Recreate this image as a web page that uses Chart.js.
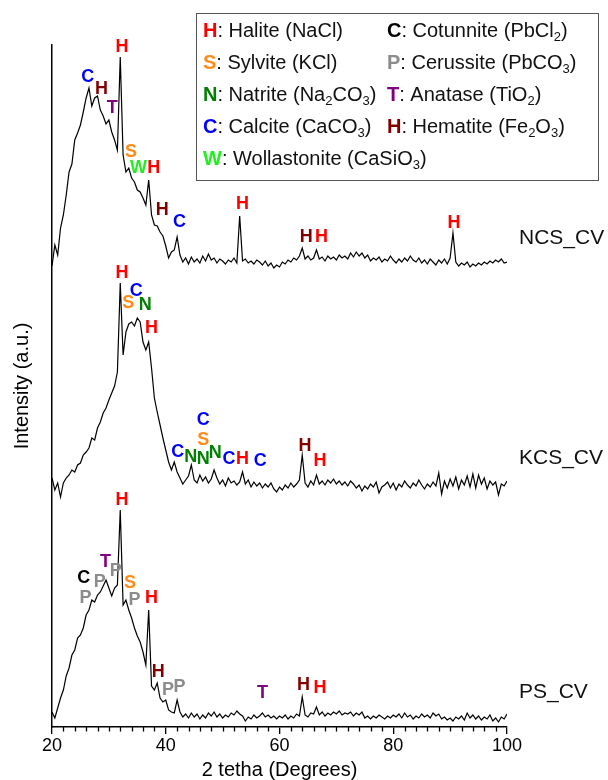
<!DOCTYPE html>
<html>
<head>
<meta charset="utf-8">
<script src="https://cdn.jsdelivr.net/npm/chart.js@4.4.1/dist/chart.umd.min.js"></script>
<style>
  body { margin: 0; background: #fff; }
  canvas { display: block; }
</style>
</head>
<body>
<canvas id="xrd" width="608" height="780"></canvas>
<script>
// 2-theta sampling grid (degrees)
const angles = [];
for (let a = 20; a <= 100.001; a += 0.5) angles.push(Math.round(a * 10) / 10);

// intensities (a.u.) above each pattern's own baseline, one row = 5 degrees
const ncsValues = [
  2, 23, 13, 40, 53, 73, 96, 104, 128, 135,
  143, 156, 170, 180, 162, 170, 172, 158, 152, 144,
  148, 136, 128, 118, 211, 113, 96, 100, 90, 86,
  78, 76, 70, 63, 88, 53, 43, 42, 36, 32,
  22, 10, 16, 18, 31, 13, 6, 10, 4, 11,
  6, 9, 5, 12, 7, 14, 8, 10, 5, 9,
  7, 4, 8, 6, 10, 5, 52, 7, 9, 5,
  7, 4, 8, 6, 3, 7, 2, 5, 0, 3,
  1, 6, 4, 8, 6, 10, 8, 12, 20, 9,
  12, 8, 10, 18, 9, 11, 7, 12, 9, 11,
  8, 13, 10, 12, 9, 15, 11, 16, 12, 15,
  10, 13, 7, 10, 8, 11, 6, 9, 7, 12,
  8, 5, 9, 6, 10, 7, 12, 8, 6, 10,
  5, 8, 4, 9, 6, 3, 8, 5, 9, 4,
  10, 35, 6, 2, 5, 3, 6, 1, 4, 2,
  5, 3, 6, 4, 7, 5, 8, 6, 9, 5,
  6
];
const kcsValues = [
  19, 7, 14, 0, 14, 19, 22, 27, 25, 32,
  34, 42, 45, 49, 59, 57, 69, 75, 84, 89,
  97, 104, 111, 125, 214, 142, 165, 173, 175, 171,
  179, 175, 155, 147, 155, 129, 99, 85, 72, 59,
  47, 35, 27, 35, 25, 19, 13, 17, 21, 32,
  17, 14, 22, 16, 20, 14, 18, 27, 19, 13,
  17, 11, 19, 14, 16, 12, 15, 25, 13, 17,
  10, 15, 11, 14, 9, 13, 10, 14, 8, 5,
  10, 7, 12, 9, 14, 10, 13, 17, 42, 14,
  10, 16, 12, 22, 13, 16, 12, 17, 14, 18,
  13, 16, 12, 15, 11, 16, 13, 9, 12, 6,
  11, 8, 13, 10, 15, 4, 10, 12, 15, 9,
  14, 7, 13, 10, 16, 12, 9, 14, 11, 17,
  12, 8, 13, 10, 15, 11, 24, 3, 16, 9,
  18, 11, 20, 8, 17, 12, 21, 10, 23, 9,
  22, 13, 19, 8, 16, 12, 15, 2, 13, 11,
  16
];
const psValues = [
  10, 4, 14, 24, 32, 46, 54, 67, 72, 84,
  87, 94, 107, 112, 122, 120, 127, 130, 136, 142,
  134, 126, 134, 137, 212, 117, 122, 112, 104, 94,
  86, 80, 70, 57, 112, 36, 32, 39, 24, 20,
  22, 12, 10, 9, 22, 10, 5, 8, 4, 9,
  5, 8, 3, 7, 4, 9, 6, 10, 5, 8,
  4, 7, 5, 9, 7, 11, 8, 6, 1, 5,
  3, 7, 4, 6, 9, 5, 7, 4, 6, 3,
  6, 4, 7, 3, 6, 4, 8, 6, 25, 7,
  5, 9, 8, 15, 7, 10, 6, 9, 7, 10,
  8, 11, 7, 9, 8, 10, 6, 9, 7, 10,
  4, 6, 3, 6, 4, 7, 5, 3, 6, 4,
  7, 5, 8, 4, 9, 5, 7, 3, 6, 4,
  8, 5, 7, 4, 9, 6, 8, 3, 5, 2,
  4, 1, 5, 3, 6, 2, 9, 4, 7, 3,
  6, 2, 5, 3, 7, 1, 4, 0, 5, 3,
  8
];

const sampleNames = ['NCS_CV', 'KCS_CV', 'PS_CV'];
const xTicks = [20, 40, 60, 80, 100];

// phase marks: [phase, 2theta, height above the pattern baseline]
const ncsMarks = [
  ['calcite', 26.3, 191], ['hematite', 28.7, 179], ['anatase', 30.6, 160],
  ['halite', 32.3, 221], ['sylvite', 33.9, 116], ['wollastonite', 35.2, 100],
  ['halite', 37.9, 100], ['hematite', 39.4, 58], ['calcite', 42.4, 46],
  ['halite', 53.5, 64], ['hematite', 64.7, 31], ['halite', 67.4, 31],
  ['halite', 90.7, 45]
];
const kcsMarks = [
  ['halite', 32.3, 224], ['sylvite', 33.4, 194], ['calcite', 34.8, 206],
  ['natrite', 36.4, 192], ['halite', 37.5, 169], ['calcite', 42.1, 45],
  ['natrite', 44.4, 40], ['natrite', 46.6, 38], ['natrite', 48.7, 44],
  ['calcite', 46.6, 77], ['sylvite', 46.6, 57], ['calcite', 51.1, 38],
  ['halite', 53.5, 38], ['calcite', 56.6, 36], ['hematite', 64.5, 51],
  ['halite', 67.1, 36]
];
const psMarks = [
  ['halite', 32.3, 222], ['anatase', 29.4, 160], ['cotunnite', 25.6, 144],
  ['cerussite', 28.4, 140], ['cerussite', 31.2, 151], ['sylvite', 33.7, 139],
  ['cerussite', 25.9, 124], ['cerussite', 34.5, 122], ['halite', 37.5, 124],
  ['hematite', 38.7, 50], ['cerussite', 40.4, 32], ['cerussite', 42.4, 35],
  ['anatase', 57.0, 29], ['hematite', 64.2, 37], ['halite', 67.1, 34]
];

const FONT = '"Liberation Sans", Arial, sans-serif';

const phases = {
  halite:       { letter: 'H', color: '#ff0000', text: [': Halite (NaCl)'] },
  sylvite:      { letter: 'S', color: '#ff8c1a', text: [': Sylvite (KCl)'] },
  natrite:      { letter: 'N', color: '#008000', text: [': Natrite (Na', '_2', 'CO', '_3', ')'] },
  calcite:      { letter: 'C', color: '#0000ff', text: [': Calcite (CaCO', '_3', ')'] },
  wollastonite: { letter: 'W', color: '#22ee22', text: [': Wollastonite (CaSiO', '_3', ')'] },
  cotunnite:    { letter: 'C', color: '#000000', text: [': Cotunnite (PbCl', '_2', ')'] },
  cerussite:    { letter: 'P', color: '#8c8c8c', text: [': Cerussite (PbCO', '_3', ')'] },
  anatase:      { letter: 'T', color: '#800080', text: [': Anatase (TiO', '_2', ')'] },
  hematite:     { letter: 'H', color: '#800000', text: [': Hematite (Fe', '_2', 'O', '_3', ')'] }
};

const patterns = [
  { name: sampleNames[0], values: ncsValues, marks: ncsMarks, offset: 459, labelAt: 30 },
  { name: sampleNames[1], values: kcsValues, marks: kcsMarks, offset: 230, labelAt: 39 },
  { name: sampleNames[2], values: psValues, marks: psMarks, offset: 5, labelAt: 30 }
];

const legendCols = [
  ['halite', 'sylvite', 'natrite', 'calcite', 'wollastonite'],
  ['cotunnite', 'cerussite', 'anatase', 'hematite']
];

const decor = {
  id: 'decor',
  afterDraw(chart) {
    const { ctx, scales: { x, y } } = chart;
    ctx.save();

    // minor ticks every 2 degrees
    ctx.strokeStyle = '#000';
    ctx.lineWidth = 1.3;
    ctx.beginPath();
    for (let a = 22; a < 100; a += 2) {
      if (a % 20 === 0) continue;
      const px = Math.round(x.getPixelForValue(a)) + 0.5;
      ctx.moveTo(px, y.bottom);
      ctx.lineTo(px, y.bottom + 4.5);
    }
    ctx.stroke();

    // phase letters
    ctx.textAlign = 'center';
    ctx.textBaseline = 'middle';
    ctx.font = 'bold 18px ' + FONT;
    patterns.forEach(p => {
      p.marks.forEach(m => {
        const ph = phases[m[0]];
        ctx.fillStyle = ph.color;
        ctx.fillText(ph.letter, x.getPixelForValue(m[1]), y.getPixelForValue(p.offset + m[2]));
      });
    });

    // sample names on the right
    ctx.textAlign = 'left';
    ctx.fillStyle = '#111';
    ctx.font = '21px ' + FONT;
    patterns.forEach(p => {
      ctx.fillText(p.name, x.right + 12, y.getPixelForValue(p.offset + p.labelAt));
    });

    // legend box
    ctx.fillStyle = '#fff';
    ctx.fillRect(196, 13, 402, 167);
    ctx.strokeStyle = '#555';
    ctx.lineWidth = 1;
    ctx.strokeRect(196.5, 13.5, 402, 167);
    const colX = [203, 387];
    const rowY = [31, 63, 95, 127, 159];
    ctx.textBaseline = 'middle';
    legendCols.forEach((col, ci) => {
      col.forEach((key, ri) => {
        const ph = phases[key];
        let cx = colX[ci];
        const cy = rowY[ri];
        ctx.font = 'bold 20px ' + FONT;
        ctx.fillStyle = ph.color;
        ctx.fillText(ph.letter, cx, cy);
        cx += ctx.measureText(ph.letter).width;
        ctx.fillStyle = '#111';
        ph.text.forEach(seg => {
          if (seg.startsWith('_')) {
            ctx.font = '13px ' + FONT;
            ctx.fillText(seg.slice(1), cx, cy + 6);
            cx += ctx.measureText(seg.slice(1)).width;
          } else {
            ctx.font = '20px ' + FONT;
            ctx.fillText(seg, cx, cy);
            cx += ctx.measureText(seg).width;
          }
        });
      });
    });
    ctx.restore();
  }
};

new Chart(document.getElementById('xrd'), {
  type: 'line',
  data: {
    datasets: patterns.map(p => ({
      label: p.name,
      data: angles.map((a, i) => ({ x: a, y: p.values[i] + p.offset })),
      borderColor: '#000',
      borderWidth: 1.2,
      pointRadius: 0,
      tension: 0,
      fill: false
    }))
  },
  options: {
    responsive: false,
    animation: false,
    layout: { padding: { top: 45, right: 101, left: 0, bottom: 0 } },
    plugins: { legend: { display: false }, tooltip: { enabled: false } },
    scales: {
      x: {
        type: 'linear',
        min: 20,
        max: 100,
        afterBuildTicks: s => { s.ticks = xTicks.map(v => ({ value: v })); },
        ticks: { color: '#000', font: { size: 18, family: FONT }, padding: 1, maxRotation: 0 },
        grid: { drawOnChartArea: false, drawTicks: true, tickLength: 7, color: '#000', lineWidth: 1.3 },
        border: { color: '#000', width: 1.5 },
        title: {
          display: true, text: '2 tetha (Degrees)', color: '#000',
          font: { size: 20, family: FONT, lineHeight: 1 }, padding: { top: 0, bottom: 0 }
        },
        afterFit: s => { s.height = 53; }
      },
      y: {
        min: 0,
        max: 682,
        ticks: { display: false },
        grid: { display: false },
        border: { color: '#000', width: 1.5 },
        title: {
          display: true, text: 'Intensity (a.u.)', color: '#000',
          font: { size: 20, family: FONT }, padding: { top: 10, bottom: 0 }
        },
        afterFit: s => { s.width = 52; }
      }
    }
  },
  plugins: [decor]
});
</script>
</body>
</html>
